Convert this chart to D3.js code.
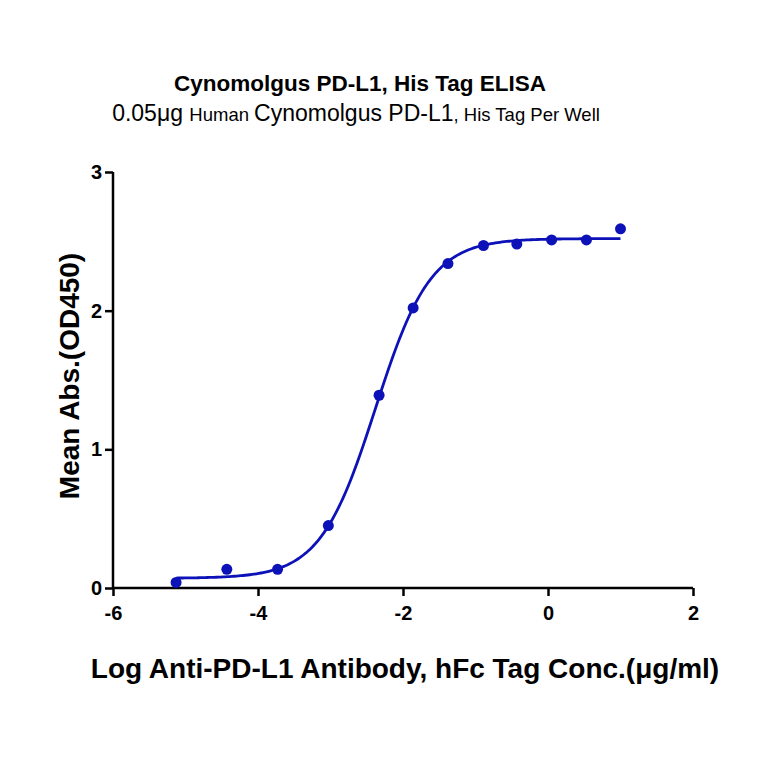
<!DOCTYPE html>
<html>
<head>
<meta charset="utf-8">
<script src="https://cdn.jsdelivr.net/npm/d3@7"></script>
<style>
  body { margin: 0; background: #fff; }
  svg { display: block; font-family: "Liberation Sans", Arial, sans-serif; }
</style>
</head>
<body>
<div id="chart"></div>
<script>
// measured points (log conc, OD450)
const logConc = [-5.13, -4.43, -3.73, -3.03, -2.33, -1.86, -1.38, -0.89, -0.43, 0.05, 0.53, 1.0];
const meanAbs = [0.04, 0.135, 0.135, 0.45, 1.39, 2.02, 2.34, 2.47, 2.48, 2.51, 2.51, 2.59];
const xTicks = [-6, -4, -2, 0, 2];
const yTicks = [0, 1, 2, 3];

// 4PL fit
const fitBottom = 0.07, fitTop = 2.52, fitLogEC50 = -2.38, fitHill = 1.14;

const width = 764, height = 764;
const margin = { left: 113, right: 71, top: 172, bottom: 176 };
const blue = "#0d12b8";

const svg = d3.select("#chart").append("svg")
  .attr("width", width)
  .attr("height", height);

const x = d3.scaleLinear().domain([-6, 2]).range([margin.left, width - margin.right]);
const y = d3.scaleLinear().domain([0, 3]).range([height - margin.bottom, margin.top]);

// titles
svg.append("text")
  .attr("x", 360).attr("y", 91)
  .attr("text-anchor", "middle")
  .attr("font-size", 22.5).attr("font-weight", "bold")
  .text("Cynomolgus PD-L1, His Tag ELISA");

const sub = svg.append("text")
  .attr("x", 356).attr("y", 121)
  .attr("text-anchor", "middle")
  .attr("font-size", 23);
sub.append("tspan").text("0.05μg ");
sub.append("tspan").attr("font-size", 18.5).text("Human ");
sub.append("tspan").text("Cynomolgus PD-L1");
sub.append("tspan").attr("font-size", 18.5).text(", His Tag Per Well");

// axes
const fmt = d => String(d);
const xAxis = svg.append("g")
  .attr("transform", `translate(0,${y(0)})`)
  .call(d3.axisBottom(x).tickValues(xTicks).tickSize(8).tickPadding(10).tickFormat(fmt));
const yAxis = svg.append("g")
  .attr("transform", `translate(${x(-6)},0)`)
  .call(d3.axisLeft(y).tickValues(yTicks).tickSize(8).tickPadding(3).tickFormat(fmt));

[xAxis, yAxis].forEach(g => {
  g.select(".domain").attr("stroke", "#000").attr("stroke-width", 2.5);
  g.selectAll(".tick line").attr("stroke", "#000").attr("stroke-width", 2.5);
  g.selectAll(".tick text")
    .attr("fill", "#000")
    .attr("font-size", 20).attr("font-weight", "bold")
    .attr("font-family", "Liberation Sans, Arial, sans-serif");
});
// remove outer ticks of domain path
xAxis.select(".domain").attr("d", `M${x(-6)},0H${x(2)}`);
yAxis.select(".domain").attr("d", `M0,${y(3)}V${y(0)}`);

// axis titles
svg.append("text")
  .attr("x", 405).attr("y", 678)
  .attr("text-anchor", "middle")
  .attr("font-size", 28).attr("font-weight", "bold")
  .text("Log Anti-PD-L1 Antibody, hFc Tag Conc.(μg/ml)");

svg.append("text")
  .attr("transform", `translate(79,376) rotate(-90)`)
  .attr("text-anchor", "middle")
  .attr("font-size", 28).attr("font-weight", "bold")
  .text("Mean Abs.(OD450)");

// fitted curve
const fit = v => fitBottom + (fitTop - fitBottom) / (1 + Math.pow(10, (fitLogEC50 - v) * fitHill));
const curveX = d3.range(200).map(i => logConc[0] + (logConc[logConc.length - 1] - logConc[0]) * i / 199);
svg.append("path")
  .datum(curveX)
  .attr("fill", "none")
  .attr("stroke", blue)
  .attr("stroke-width", 2.8)
  .attr("d", d3.line().x(d => x(d)).y(d => y(fit(d))));

// points
svg.append("g")
  .selectAll("circle")
  .data(logConc.map((c, i) => [c, meanAbs[i]]))
  .join("circle")
  .attr("cx", d => x(d[0]))
  .attr("cy", d => y(d[1]))
  .attr("r", 5.5)
  .attr("fill", blue);
</script>
</body>
</html>
